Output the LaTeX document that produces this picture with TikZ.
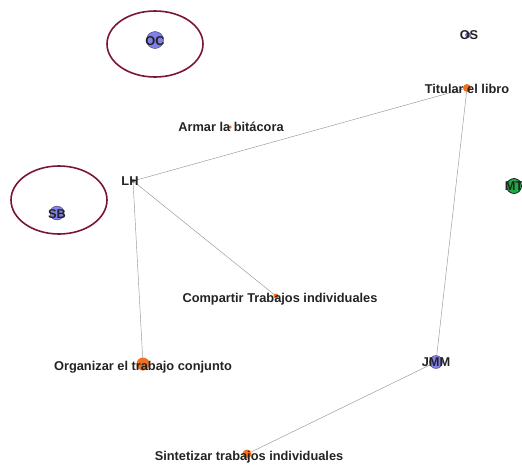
\documentclass[tikz,border=0pt]{standalone}
\usepackage{fontspec}
\setmainfont{Liberation Sans}
\definecolor{nblue}{RGB}{128,128,232}
\definecolor{norange}{RGB}{242,112,32}
\definecolor{ngreen}{RGB}{30,170,70}
\definecolor{ring}{RGB}{122,22,52}
\definecolor{edge}{RGB}{150,150,150}
\definecolor{lbl}{RGB}{35,35,35}
\begin{document}
\begin{tikzpicture}[x=1pt,y=-1pt,
  bdot/.style={circle,fill=nblue,draw=nblue!50!black,line width=0.4pt,inner sep=0pt,minimum size=#1},
  odot/.style={circle,fill=norange,draw=none,inner sep=0pt,minimum size=#1},
  gdot/.style={circle,fill=ngreen,draw=black,line width=0.6pt,inner sep=0pt,minimum size=#1},
  lab/.style={font=\bfseries\fontsize{12.8}{13}\selectfont,text=lbl,inner sep=0pt},
  link/.style={draw=edge,line width=0.45pt},
  grp/.style={draw=ring,line width=1.6pt}]
\useasboundingbox (0,0) rectangle (522,466);
% group ellipses
\draw[grp] (155,44) ellipse [x radius=48, y radius=33];
\draw[grp] (59,200) ellipse [x radius=48, y radius=34];
% dots
\node[bdot=17] (oc) at (155,40) {};
\node[bdot=5] (os) at (468,35) {};
\node[odot=8] (tit) at (467,88) {};
\node[odot=3.5] (arm) at (230,127) {};
\node[bdot=3] (lh) at (133,181) {};
\node[bdot=14] (sb) at (57,213) {};
\node[gdot=15] (mt) at (514,186) {};
\node[odot=5] (comp) at (276,296) {};
\node[odot=13] (org) at (143,364) {};
\node[bdot=13] (jmm) at (436,362) {};
\node[odot=9] (sint) at (247,454) {};
% links
\draw[link] (lh) -- (tit);
\draw[link] (lh) -- (comp);
\draw[link] (lh) -- (org);
\draw[link] (tit) -- (jmm);
\draw[link] (jmm) -- (sint);
% labels
\node[lab] (loc) at (155,41) {OC};
\node[lab] (los) at (469,35) {OS};
\node[lab] (ltit) at (467,89) {Titular el libro};
\node[lab] (larm) at (231,127) {Armar la bitácora};
\node[lab] (llh) at (130,181) {LH};
\node[lab] (lsb) at (57,214) {SB};
\node[lab] (lmt) at (514,186) {MT};
\node[lab] (lcomp) at (280,299) {Compartir Trabajos individuales};
\node[lab] (lorg) at (143,367) {Organizar el trabajo conjunto};
\node[lab] (ljmm) at (436,362) {JMM};
\node[lab] (lsint) at (249,457) {Sintetizar trabajos individuales};
\end{tikzpicture}
\end{document}
